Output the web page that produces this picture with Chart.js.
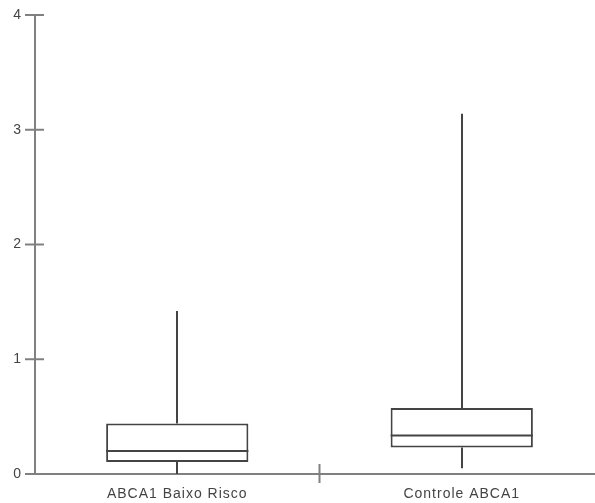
<!DOCTYPE html>
<html>
<head>
<meta charset="utf-8">
<script src="https://cdn.jsdelivr.net/npm/chart.js@4"></script>
<style>
  html, body { margin: 0; padding: 0; overflow: hidden; background: #fff; }
  #wrap { width: 604px; height: 503px; }
</style>
</head>
<body>
<div id="wrap"><canvas id="c" width="604" height="503"></canvas></div>
<script>
const categories = ['ABCA1 Baixo Risco', 'Controle ABCA1'];
const mins = [0.0, 0.05];
const q1s = [0.105, 0.23];
const medians = [0.20, 0.335];
const q3s = [0.44, 0.575];
const maxs = [1.42, 3.14];
const yTicks = [0, 1, 2, 3, 4];

const LINE = '#444444';
const AXIS = '#808080';
const FONT = { family: 'Liberation Sans, Arial, sans-serif', size: 14 };

const spacingPlugin = {
  id: 'spacing',
  beforeDraw(chart) { chart.ctx.letterSpacing = '1px'; }
};

const boxPlugin = {
  id: 'boxParts',
  beforeDatasetsDraw(chart) {
    const ctx = chart.ctx, x = chart.scales.x, y = chart.scales.y;
    ctx.save();
    ctx.strokeStyle = LINE;
    ctx.lineWidth = 2;
    categories.forEach((c, i) => {
      const cx = Math.round(x.getPixelForValue(i));
      ctx.beginPath();
      ctx.moveTo(cx, y.getPixelForValue(q3s[i]));
      ctx.lineTo(cx, y.getPixelForValue(maxs[i]));
      ctx.moveTo(cx, y.getPixelForValue(q1s[i]));
      ctx.lineTo(cx, y.getPixelForValue(mins[i]));
      ctx.stroke();
    });
    ctx.restore();
  },
  afterDatasetsDraw(chart) {
    const ctx = chart.ctx, x = chart.scales.x, y = chart.scales.y;
    const meta = chart.getDatasetMeta(0);
    ctx.save();
    ctx.strokeStyle = LINE;
    ctx.lineWidth = 2;
    meta.data.forEach((bar, i) => {
      const half = bar.width / 2;
      const my = y.getPixelForValue(medians[i]);
      ctx.beginPath();
      ctx.moveTo(bar.x - half, my);
      ctx.lineTo(bar.x + half, my);
      ctx.stroke();
    });
    ctx.strokeStyle = AXIS;
    ctx.lineWidth = 2;
    const ax = chart.chartArea.left;
    yTicks.forEach(v => {
      const py = y.getPixelForValue(v);
      ctx.beginPath();
      ctx.moveTo(ax - 10, py);
      ctx.lineTo(ax + 9, py);
      ctx.stroke();
    });
    const ay = chart.chartArea.bottom;
    for (let i = 0; i < categories.length - 1; i++) {
      const px = (x.getPixelForValue(i) + x.getPixelForValue(i + 1)) / 2;
      ctx.beginPath();
      ctx.moveTo(px, ay - 10);
      ctx.lineTo(px, ay + 9);
      ctx.stroke();
    }
    ctx.restore();
  }
};

new Chart(document.getElementById('c'), {
  type: 'bar',
  data: {
    labels: categories,
    datasets: [{
      data: categories.map((c, i) => [q1s[i], q3s[i]]),
      backgroundColor: '#ffffff',
      borderColor: LINE,
      borderWidth: 2,
      borderSkipped: false,
      categoryPercentage: 1,
      barPercentage: 0.5
    }]
  },
  options: {
    responsive: false,
    animation: false,
    devicePixelRatio: 1,
    layout: { padding: { top: 15, left: 0, right: 0, bottom: 0 } },
    plugins: { legend: { display: false }, tooltip: { enabled: false } },
    scales: {
      x: {
        grid: { display: false, drawTicks: false },
        border: { display: true, color: AXIS, width: 2 },
        ticks: { color: '#444', padding: 12, font: FONT },
        afterFit(s) { s.height = 29; s.paddingLeft = 0; s.paddingRight = 0; }
      },
      y: {
        min: 0, max: 4,
        afterBuildTicks(s) { s.ticks = yTicks.map(v => ({ value: v })); },
        grid: { display: false, drawTicks: false },
        border: { display: true, color: AXIS, width: 2 },
        ticks: { color: '#444', padding: 13, font: FONT },
        afterFit(s) { s.width = 35; s.paddingTop = 0; s.paddingBottom = 0; }
      }
    }
  },
  plugins: [spacingPlugin, boxPlugin]
});
</script>
</body>
</html>
